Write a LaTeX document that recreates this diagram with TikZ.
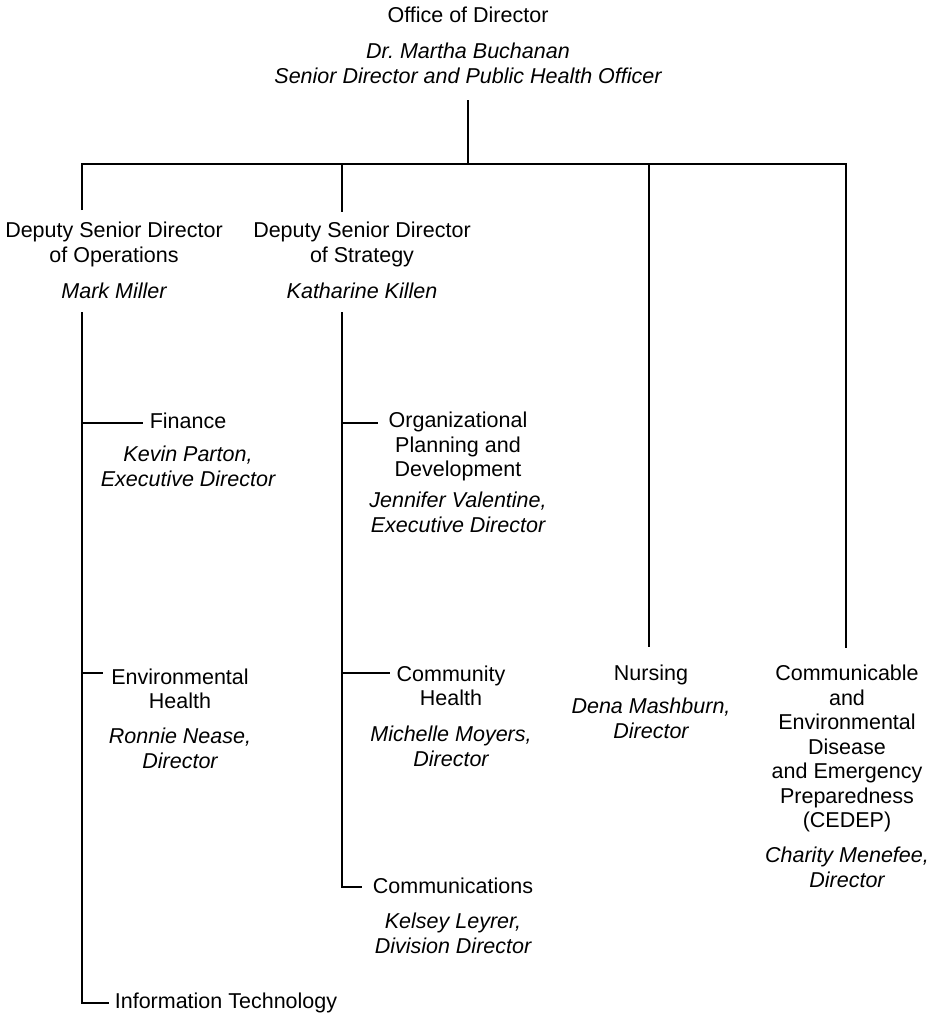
\documentclass[tikz,border=0pt]{standalone}
\usepackage{fontspec}
\setmainfont{Liberation Sans}
\newcommand\pname[1]{{\itshape #1}}
\begin{document}
\begin{tikzpicture}[x=1pt,y=-1pt,
  blk/.style={align=center, anchor=base, inner sep=0pt, font=\fontsize{21.5}{24.5}\selectfont},
  conn/.style={draw=black, line width=1.8pt}]
\useasboundingbox (0,0) rectangle (927,1015);
% text blocks (anchored at the baseline of their last line)
\node[blk] (office) at (468,83) {Office of Director\\[11.5pt]\pname{Dr.\ Martha Buchanan}\\\pname{Senior Director and Public Health Officer}};
\node[blk] (ops) at (114,298) {Deputy Senior Director\\of Operations\\[11.5pt]\pname{Mark Miller}};
\node[blk] (strat) at (362,298) {Deputy Senior Director\\of Strategy\\[11.5pt]\pname{Katharine Killen}};
\node[blk] (fin) at (188,486) {Finance\\[8.5pt]\pname{Kevin Parton,}\\\pname{Executive Director}};
\node[blk] (orgdev) at (458,532) {Organizational\\Planning and\\Development\\[6.5pt]\pname{Jennifer Valentine,}\\\pname{Executive Director}};
\node[blk] (envh) at (180,768) {Environmental\\Health\\[10.5pt]\pname{Ronnie Nease,}\\\pname{Director}};
\node[blk] (commh) at (451,766) {Community\\Health\\[11.5pt]\pname{Michelle Moyers,}\\\pname{Director}};
\node[blk] (comms) at (453,953) {Communications\\[10.5pt]\pname{Kelsey Leyrer,}\\\pname{Division Director}};
\node[blk] (it) at (226,1008) {Information Technology};
\node[blk] (nurs) at (651,738) {Nursing\\[8.5pt]\pname{Dena Mashburn,}\\\pname{Director}};
\node[blk] (cedep) at (847,887) {Communicable\\and\\Environmental\\Disease\\and Emergency\\Preparedness\\(CEDEP)\\[10.5pt]\pname{Charity Menefee,}\\\pname{Director}};
% connector points
\coordinate (offB) at (468,100);
\coordinate (busC) at (468,164);
\coordinate (opsT) at (82,210);
\coordinate (busR) at (846,164);
\coordinate (cedT) at (846,648);
\coordinate (busS) at (342,164);
\coordinate (stratT) at (342,212);
\coordinate (busN) at (649,164);
\coordinate (nursT) at (649,647);
\coordinate (opsB) at (82,312);
\coordinate (itL) at (109,1003);
\coordinate (finJ) at (82,423);
\coordinate (finL) at (143,423);
\coordinate (envJ) at (82,673);
\coordinate (envL) at (103,673);
\coordinate (stratB) at (342,312);
\coordinate (commsL) at (362,887);
\coordinate (orgJ) at (342,423);
\coordinate (orgL) at (378,423);
\coordinate (chJ) at (342,673);
\coordinate (chL) at (390,673);
% connectors
\draw[conn] (offB) -- (busC);
\draw[conn] (opsT) |- (busR) -- (cedT);
\draw[conn] (busS) -- (stratT);
\draw[conn] (busN) -- (nursT);
\draw[conn] (opsB) |- (itL);
\draw[conn] (finJ) -- (finL);
\draw[conn] (envJ) -- (envL);
\draw[conn] (stratB) |- (commsL);
\draw[conn] (orgJ) -- (orgL);
\draw[conn] (chJ) -- (chL);
\end{tikzpicture}
\end{document}
